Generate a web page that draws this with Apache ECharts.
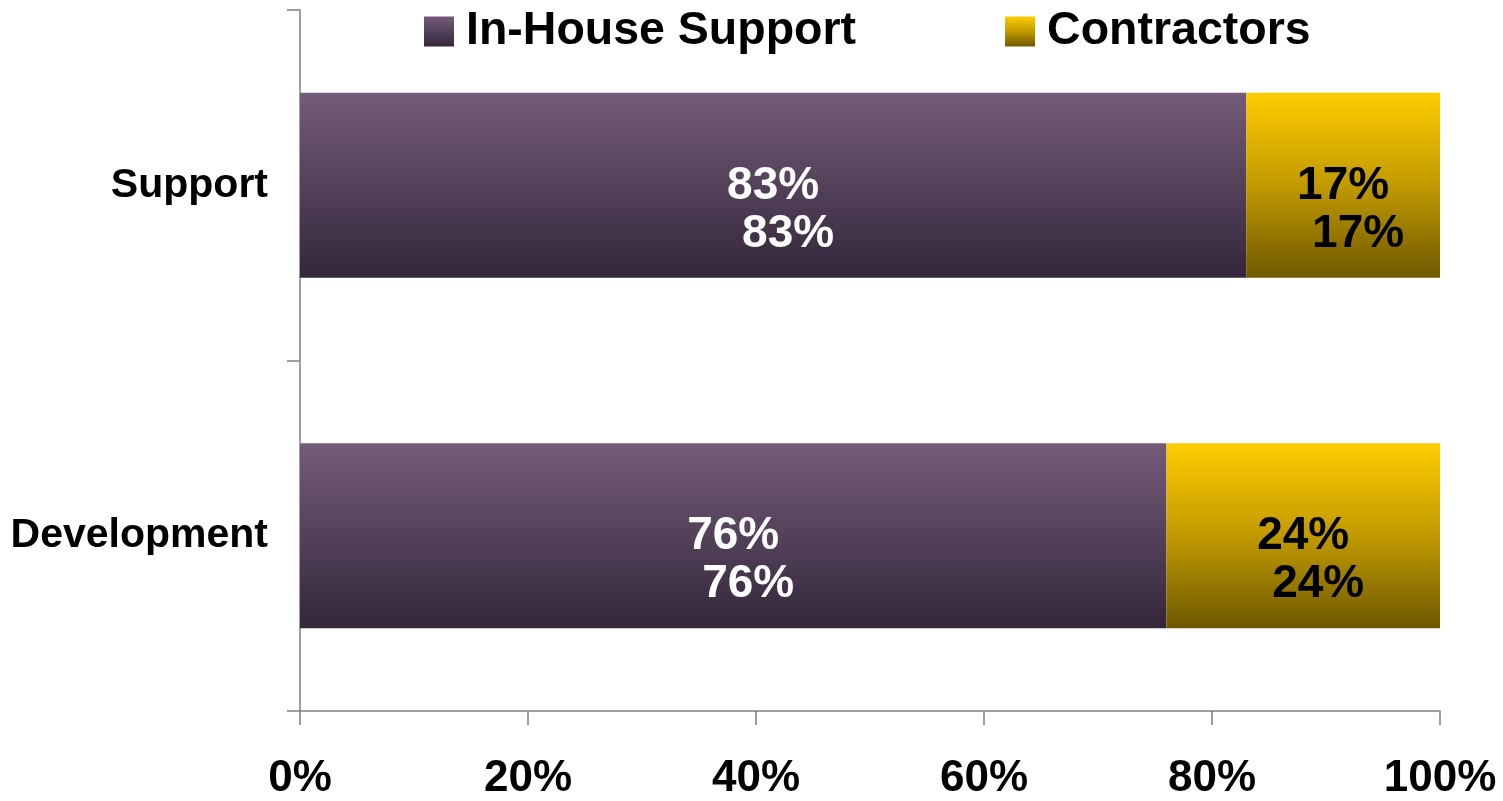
<!DOCTYPE html>
<html>
<head>
<meta charset="utf-8">
<script src="https://cdn.jsdelivr.net/npm/echarts@6/dist/echarts.min.js"></script>
<style>
  html, body { margin: 0; padding: 0; background: #fff; }
  #main { width: 1503px; height: 801px; }
</style>
</head>
<body>
<div id="main"></div>
<script type="text/javascript">
// data
var categories = ['Development', 'Support'];
var inHouse = [76, 83];
var contractors = [24, 17];
var xTicks = [0, 20, 40, 60, 80, 100];

var FONT = "'Liberation Sans', Arial, sans-serif";

var purpleFill = new echarts.graphic.LinearGradient(0, 0, 0, 1, [
    { offset: 0, color: '#745b79' },
    { offset: 1, color: '#33273a' }
]);
var yellowFill = new echarts.graphic.LinearGradient(0, 0, 0, 1, [
    { offset: 0, color: '#ffcc00' },
    { offset: 0.5, color: '#c19a00' },
    { offset: 1, color: '#6e5800' }
]);

// two stacked copies of the value, second one nudged right
function twoLine(p) {
    return '{a|' + p.value + '%}\n{b|' + p.value + '%}';
}
function labelStyle(col) {
    return {
        show: true,
        position: 'inside',
        offset: [0, 25],
        formatter: twoLine,
        rich: {
            a: { color: col, fontSize: 46, fontWeight: 'bold', fontFamily: FONT, lineHeight: 48 },
            b: { color: col, fontSize: 46, fontWeight: 'bold', fontFamily: FONT, lineHeight: 48, padding: [0, 0, 0, 30] }
        }
    };
}

var chart = echarts.init(document.getElementById('main'));
var option = {
    animation: false,
    grid: { left: 300, right: 63, top: 10, bottom: 88 },
    legend: {
        left: 424,
        top: 8,
        padding: 0,
        itemWidth: 30,
        itemHeight: 30,
        itemGap: 149,
        icon: 'rect',
        textStyle: { fontSize: 46.5, fontWeight: 'bold', color: '#000', fontFamily: FONT, padding: [0, 0, 0, 7] },
        data: ['In-House Support', 'Contractors']
    },
    xAxis: {
        type: 'value',
        min: 0,
        max: 100,
        interval: 20,
        splitLine: { show: false },
        axisLine: { show: true, lineStyle: { color: '#7f7f7f', width: 1.5 } },
        axisTick: { show: true, length: 14, lineStyle: { color: '#7f7f7f', width: 1.5 } },
        axisLabel: {
            margin: 46,
            fontSize: 44,
            fontWeight: 'bold',
            color: '#000',
            fontFamily: FONT,
            formatter: function (v) { return xTicks.indexOf(v) >= 0 ? v + '%' : ''; }
        }
    },
    yAxis: {
        type: 'category',
        data: categories,
        axisLine: { show: true, lineStyle: { color: '#7f7f7f', width: 1.5 } },
        axisTick: { show: true, length: 13, lineStyle: { color: '#7f7f7f', width: 1.5 } },
        axisLabel: { margin: 32, fontSize: 41, fontWeight: 'bold', color: '#000', fontFamily: FONT }
    },
    series: [
        {
            name: 'In-House Support',
            type: 'bar',
            stack: 'total',
            barWidth: 185,
            itemStyle: { color: purpleFill },
            label: labelStyle('#fff'),
            data: inHouse
        },
        {
            name: 'Contractors',
            type: 'bar',
            stack: 'total',
            barWidth: 185,
            itemStyle: { color: yellowFill },
            label: labelStyle('#000'),
            data: contractors
        }
    ]
};
chart.setOption(option);
</script>
</body>
</html>
